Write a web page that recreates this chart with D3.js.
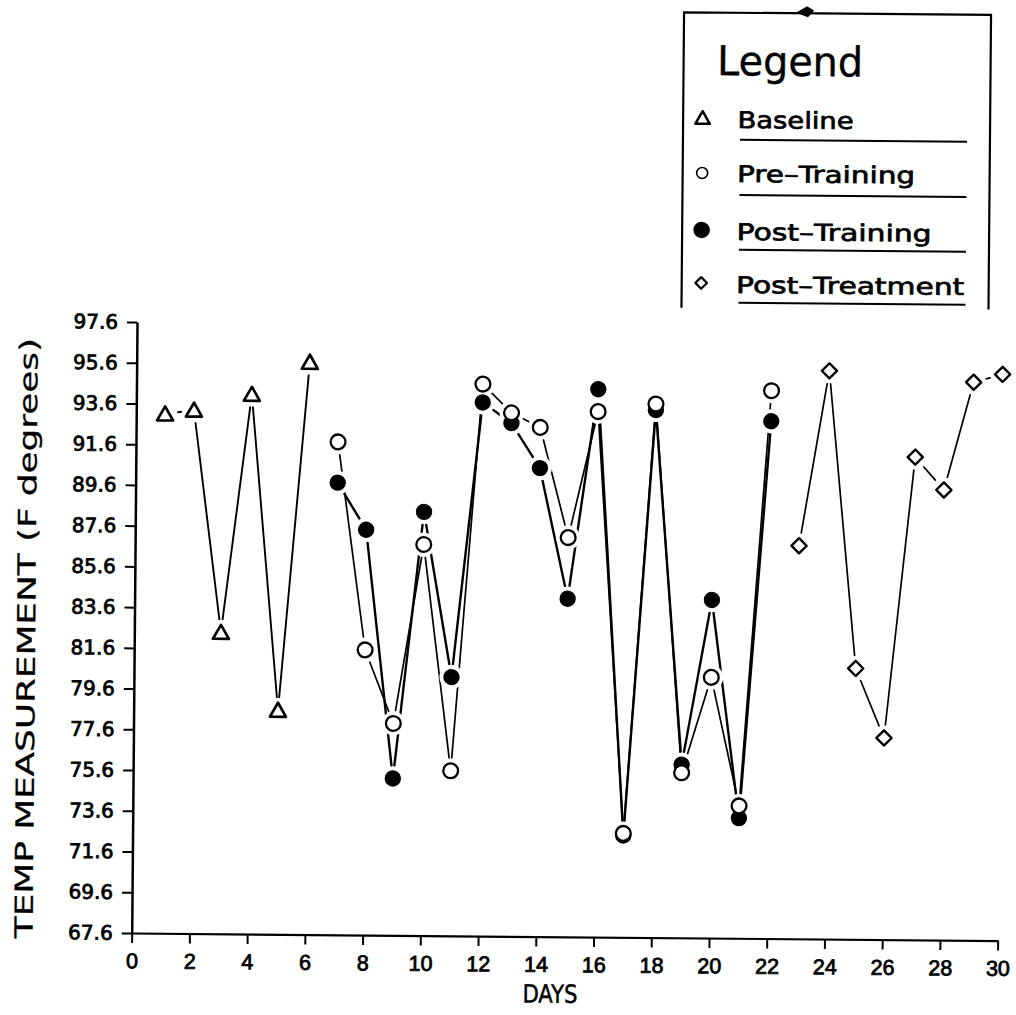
<!DOCTYPE html>
<html>
<head>
<meta charset="utf-8">
<script src="https://cdn.jsdelivr.net/npm/d3@7"></script>
<style>
  html, body { margin: 0; padding: 0; background: #fff; }
  svg { display: block; }
  text { font-family: "DejaVu Sans", sans-serif; fill: #000; }
</style>
</head>
<body>
<svg id="chart" width="1016" height="1015"></svg>
<script>
// Skin temperature (°F) recorded each day, by study phase
const baselineDays = [1, 2, 3, 4, 5, 6];
const baselineTemps = [93.1, 93.3, 82.4, 94.1, 78.6, 95.7];

const trainingDays = [7, 8, 9, 10, 11, 12, 13, 14, 15, 16, 17, 18, 19, 20, 21, 22];
const preTrainingTemps = [91.8, 81.6, 78.0, 86.8, 75.7, 94.7, 93.3, 92.6, 87.2, 93.4, 72.7, 93.8, 75.7, 80.4, 74.1, 94.5];
const postTrainingTemps = [89.8, 87.5, 75.3, 88.4, 80.3, 93.8, 92.8, 90.6, 84.2, 94.5, 72.6, 93.5, 76.1, 84.2, 73.5, 93.0];

const treatmentDays = [23, 24, 25, 26, 27, 28, 29, 30];
const postTreatmentTemps = [86.9, 95.5, 80.9, 77.5, 91.3, 89.7, 95.0, 95.4];

// Axis ticks
const dayTicks = [0, 2, 4, 6, 8, 10, 12, 14, 16, 18, 20, 22, 24, 26, 28, 30];
const tempTicks = [67.6, 69.6, 71.6, 73.6, 75.6, 77.6, 79.6, 81.6, 83.6, 85.6, 87.6, 89.6, 91.6, 93.6, 95.6, 97.6];
const tempTickLabels = ["67.6", "69.6", "71.6", "73.6", "75.6", "77.6", "79.6", "81.6",
                        "83.6", "85.6", "87.6", "89.6", "91.6", "93.6", "95.6", "97.6"];

const legendLabels = ["Baseline", "Pre\u2013Training", "Post\u2013Training", "Post\u2013Treatment"];
const legendTitle = "Legend";
const xTitle = "DAYS";
const yTitle = "TEMP MEASUREMENT (F degrees)";

// ---------------------------------------------------------------------------
const svg = d3.select("#chart");
svg.append("rect").attr("width", 1016).attr("height", 1015).attr("fill", "#fff");

const x = d3.scaleLinear().domain([0, 30]).range([131.7, 997.7]);
const y = d3.scaleLinear().domain([67.6, 97.6]).range([933, 322]);

// the whole sheet sits slightly askew
const root = svg.append("g").attr("transform", `rotate(0.5, ${x(0)}, ${y(67.6)})`);

// marker shapes
const triPath = "M0,-7.5L8,6.5L-8,6.5Z";
const diaPath = (h) => `M0,${-h}L${h},0L0,${h}L${-h},0Z`;

const series = [
  { key: "baseline", days: baselineDays, temps: baselineTemps, lw: 1.9, shape: "tri" },
  { key: "post", days: trainingDays, temps: postTrainingTemps, lw: 2.4, shape: "fill" },
  { key: "pre", days: trainingDays, temps: preTrainingTemps, lw: 1.7, shape: "open" },
  { key: "treat", days: treatmentDays, temps: postTreatmentTemps, lw: 1.7, shape: "dia" }
];

// heavier lettering: a thin outline on top of each glyph
const inked = (sel, w) => sel.attr("stroke", "#000").attr("stroke-width", w).attr("paint-order", "fill");

// ---------------- axes ----------------
const xAxis = root.append("g")
  .attr("transform", `translate(0,${y(67.6)})`)
  .call(d3.axisBottom(x).tickValues(dayTicks).tickSize(10).tickPadding(10).tickSizeOuter(0));
xAxis.select(".domain").attr("stroke", "#000").attr("stroke-width", 2.2);
xAxis.selectAll(".tick line").attr("stroke", "#000").attr("stroke-width", 2);
inked(xAxis.selectAll(".tick text")
  .style("font-family", "'Liberation Sans', sans-serif")
  .style("font-size", "21.5px")
  .attr("fill", "#000"), 0.8);

const yAxis = root.append("g")
  .attr("transform", `translate(${x(0)},0)`)
  .call(d3.axisLeft(y).tickValues(tempTicks).tickFormat((d, i) => tempTickLabels[i])
    .tickSize(10).tickPadding(9).tickSizeOuter(0));
yAxis.select(".domain").attr("stroke", "#000").attr("stroke-width", 2.5);
yAxis.selectAll(".tick line").attr("stroke", "#000").attr("stroke-width", 2);
inked(yAxis.selectAll(".tick text")
  .style("font-family", "'DejaVu Sans', sans-serif")
  .style("font-size", "20px")
  .attr("fill", "#000"), 0.8);

// axis titles
inked(root.append("text")
  .attr("x", 550.5).attr("y", 999)
  .attr("text-anchor", "middle")
  .attr("textLength", 55).attr("lengthAdjust", "spacingAndGlyphs")
  .style("font-size", "25px")
  .text(xTitle), 0.5);

inked(root.append("text")
  .attr("transform", "translate(32.5,639) rotate(-90)")
  .attr("text-anchor", "middle")
  .attr("textLength", 600).attr("lengthAdjust", "spacingAndGlyphs")
  .style("font-size", "25px")
  .text(yTitle), 0.25);

// ---------------- connecting lines (broken short of each marker) ----------------
const gap = 13;
const segs = [];
series.forEach(s => {
  for (let i = 0; i < s.days.length - 1; i++) {
    const x1 = x(s.days[i]), y1 = y(s.temps[i]);
    const x2 = x(s.days[i + 1]), y2 = y(s.temps[i + 1]);
    const len = Math.hypot(x2 - x1, y2 - y1);
    const ux = (x2 - x1) / len, uy = (y2 - y1) / len;
    if (len <= 2 * gap + 2) {
      // close neighbours get a short dash between them
      const mx = (x1 + x2) / 2, my = (y1 + y2) / 2;
      segs.push({ x1: mx - ux * 3, y1: my - uy * 3, x2: mx + ux * 3, y2: my + uy * 3, lw: s.lw });
    } else {
      segs.push({ x1: x1 + ux * gap, y1: y1 + uy * gap, x2: x2 - ux * gap, y2: y2 - uy * gap, lw: s.lw });
    }
  }
});
root.append("g").selectAll("line").data(segs).join("line")
  .attr("x1", d => d.x1).attr("y1", d => d.y1)
  .attr("x2", d => d.x2).attr("y2", d => d.y2)
  .attr("stroke", "#000").attr("stroke-width", d => d.lw)
  .attr("stroke-linecap", "round");

// ---------------- markers ----------------
const allPts = [];
series.forEach(s => s.days.forEach((d, i) => allPts.push({ cx: x(d), cy: y(s.temps[i]), shape: s.shape })));

// white halos break any line passing behind a marker
root.append("g").selectAll("circle").data(allPts).join("circle")
  .attr("cx", d => d.cx).attr("cy", d => d.cy).attr("r", 12)
  .attr("fill", "#fff");

const mk = root.append("g");
["fill", "open", "tri", "dia"].forEach(shape => {
  const pts = allPts.filter(p => p.shape === shape);
  const g = mk.append("g");
  if (shape === "fill") {
    g.selectAll("circle").data(pts).join("circle")
      .attr("cx", d => d.cx).attr("cy", d => d.cy).attr("r", 8.2).attr("fill", "#000");
  } else if (shape === "open") {
    g.selectAll("circle").data(pts).join("circle")
      .attr("cx", d => d.cx).attr("cy", d => d.cy).attr("r", 7.4)
      .attr("fill", "#fff").attr("stroke", "#000").attr("stroke-width", 2.3);
  } else if (shape === "tri") {
    g.selectAll("path").data(pts).join("path")
      .attr("transform", d => `translate(${d.cx},${d.cy})`)
      .attr("d", triPath)
      .attr("fill", "#fff").attr("stroke", "#000").attr("stroke-width", 2.7)
      .attr("stroke-linejoin", "round");
  } else {
    g.selectAll("path").data(pts).join("path")
      .attr("transform", d => `translate(${d.cx},${d.cy})`)
      .attr("d", diaPath(7.6))
      .attr("fill", "#fff").attr("stroke", "#000").attr("stroke-width", 2.4)
      .attr("stroke-linejoin", "round");
  }
});

// ---------------- legend ----------------
const lg = root.append("g");
lg.append("path")
  .attr("d", "M676,303V7.5H983V302")
  .attr("fill", "none").attr("stroke", "#000").attr("stroke-width", 2.2);
lg.append("path")
  .attr("d", "M788,7L799,0.5L806,4.5L800,11.5Z")
  .attr("fill", "#000");

inked(lg.append("text")
  .attr("x", 709.5).attr("y", 70)
  .attr("textLength", 146).attr("lengthAdjust", "spacingAndGlyphs")
  .style("font-size", "41px")
  .text(legendTitle), 0.4);

const legendRows = [
  { shape: "tri", my: 113, ty: 122.7, uy: 134.5, w: 116 },
  { shape: "open", my: 168, ty: 176.7, uy: 189.7, w: 178 },
  { shape: "fill", my: 225, ty: 234.7, uy: 244.6, w: 195 },
  { shape: "dia", my: 278, ty: 287.7, uy: 297.6, w: 228 }
];
legendRows.forEach((r, i) => {
  const mx = 695.5;
  if (r.shape === "tri") {
    lg.append("path").attr("transform", `translate(${mx},${r.my}) scale(0.9)`).attr("d", triPath)
      .attr("fill", "#fff").attr("stroke", "#000").attr("stroke-width", 2.8).attr("stroke-linejoin", "round");
  } else if (r.shape === "open") {
    lg.append("circle").attr("cx", mx).attr("cy", r.my).attr("r", 5.5)
      .attr("fill", "#fff").attr("stroke", "#000").attr("stroke-width", 1.6);
  } else if (r.shape === "fill") {
    lg.append("circle").attr("cx", mx).attr("cy", r.my).attr("r", 8.3).attr("fill", "#000");
  } else {
    lg.append("path").attr("transform", `translate(${mx},${r.my})`).attr("d", diaPath(5.8))
      .attr("fill", "#fff").attr("stroke", "#000").attr("stroke-width", 2.2).attr("stroke-linejoin", "round");
  }
  inked(lg.append("text")
    .attr("x", 730.5).attr("y", r.ty)
    .attr("textLength", r.w).attr("lengthAdjust", "spacingAndGlyphs")
    .style("font-size", "23px")
    .text(legendLabels[i]), 0.7);
  lg.append("line")
    .attr("x1", 733).attr("x2", 960).attr("y1", r.uy).attr("y2", r.uy)
    .attr("stroke", "#000").attr("stroke-width", 2);
});
</script>
</body>
</html>
